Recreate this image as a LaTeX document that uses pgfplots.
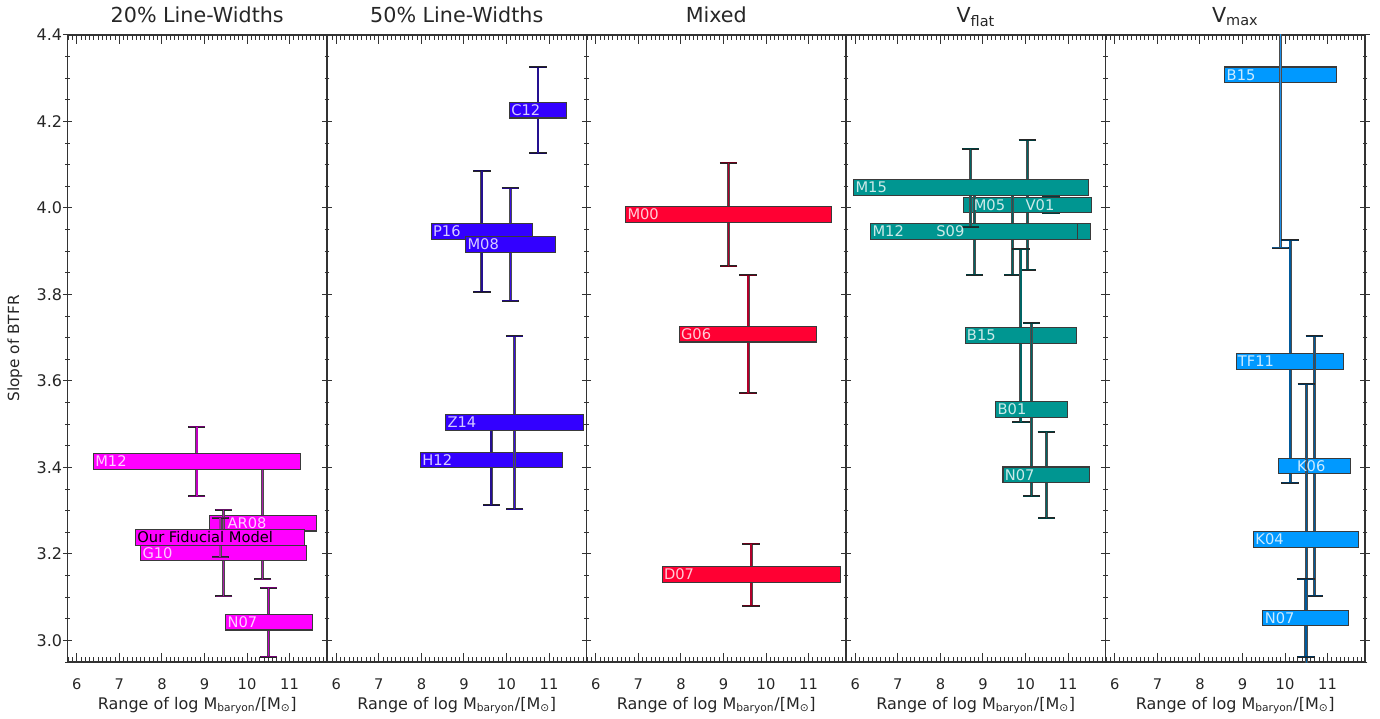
\documentclass[border=0pt]{standalone}
\usepackage{fontspec}
\setmainfont{DejaVu Sans}
\usepackage{pgfplots}
\pgfplotsset{compat=1.18}

\definecolor{axcol}{HTML}{333333}
\definecolor{txtcol}{HTML}{262626}
\definecolor{edgecol}{HTML}{3A3A3A}
\definecolor{fA}{HTML}{FF00FF}
\definecolor{eA}{HTML}{C000C0}
\definecolor{eAd}{HTML}{A820A8}
\definecolor{fB}{HTML}{3300FF}
\definecolor{eB}{HTML}{3A10E0}
\definecolor{eBd}{HTML}{241090}
\definecolor{fC}{HTML}{FF0033}
\definecolor{eC}{HTML}{B0002A}
\definecolor{fD}{HTML}{009691}
\definecolor{eD}{HTML}{006464}
\definecolor{fE}{HTML}{0099FF}
\definecolor{eE}{HTML}{005A9C}
\definecolor{eEl}{HTML}{1E8FE8}

% error bar: x, y, err, colour  (dark outline + coloured core)
\newcommand{\errbar}[4]{%
  \addplot[forget plot, draw=none, mark=none,
    error bars/.cd, y dir=both, y explicit,
    error bar style={draw=black!70, line width=2.1pt},
    error mark options={rotate=90, draw=black!85, line width=1.5pt, mark size=6.5pt}]
    coordinates {(#1,#2) +- (0,#3)};
  \addplot[forget plot, draw=none, mark=none,
    error bars/.cd, y dir=both, y explicit,
    error bar style={draw=#4, line width=1.1pt},
    error mark options={rotate=90, draw=#4!60!black, line width=0.6pt, mark size=6pt}]
    coordinates {(#1,#2) +- (0,#3)};
}
% range slab: xlo, xhi, y, fill
\newcommand{\slab}[4]{%
  \pgfmathsetmacro\ylo{#3-0.018}%
  \pgfmathsetmacro\yhi{#3+0.018}%
  \addplot[forget plot, fill=#4, draw=edgecol, line width=0.8pt, mark=none]
    coordinates {(#1,\ylo) (#2,\ylo) (#2,\yhi) (#1,\yhi)} -- cycle;
}
% label: x, y, text, colour
\newcommand{\lab}[4]{%
  \node[anchor=west, inner sep=1.2pt, text=#4, font=\fontsize{11}{13}\selectfont] at (axis cs:#1,#2) {#3};
}

\pgfplotsset{
  panel/.style={
    scale only axis, width=194.625pt, height=470.25pt,
    xmin=5.78, xmax=11.88, ymin=2.95, ymax=4.4,
    xtick={6,7,8,9,10,11},
    minor xtick={5.8,5.9,...,11.85},
    ytick={3.0,3.2,3.4,3.6,3.8,4.0,4.2,4.4},
    minor ytick={2.95,3.0,...,4.4},
    tick align=inside,
    ytick align=center,
    major tick length=7pt, minor tick length=3.5pt,
    axis line style={draw=axcol, line width=0.9pt},
    tick style={draw=axcol, line width=0.75pt},
    tick label style={text=txtcol},
    xticklabel style={font=\fontsize{11}{13}\selectfont, anchor=base, yshift=-20.5pt},
    /pgf/number format/assume math mode=true,
    title style={font=\fontsize{15.5}{18}\selectfont, text=txtcol, anchor=base,
      at={(axis description cs:0.5,1)}, yshift=3.5pt},
    xlabel={Range of log M\textsubscript{baryon}/[M\textsubscript{⊙}]},
    xlabel style={font=\fontsize{12}{14}\selectfont, text=txtcol, anchor=base,
      at={(axis description cs:0.5,0)}, yshift=-35.3pt},
  },
}

\begin{document}
\begin{tikzpicture}
\useasboundingbox (0,0) rectangle (1035pt,538.5pt);

% ---------------- 20% Line-Widths
\begin{axis}[panel, at={(50.625pt,42pt)}, anchor=south west,
  title={20\% Line-Widths},
  ylabel={Slope of BTFR},
  ylabel style={font=\fontsize{11.5}{13}\selectfont, text=txtcol,
    at={(axis description cs:-0.2024,0.5)}, anchor=center},
  yticklabel style={font=\fontsize{12}{14}\selectfont, xshift=3pt,
    /pgf/number format/fixed, /pgf/number format/fixed zerofill,
    /pgf/number format/precision=1}]
  \errbar{10.37}{3.271}{0.13}{eAd}\slab{9.12}{11.63}{3.271}{fA}
  \errbar{8.82}{3.414}{0.08}{eA}\slab{6.39}{11.25}{3.414}{fA}
  \errbar{9.45}{3.202}{0.10}{eAd}\slab{7.50}{11.39}{3.202}{fA}
  \errbar{9.37}{3.238}{0.046}{eAd}\slab{7.38}{11.35}{3.238}{fA}
  \errbar{10.51}{3.042}{0.08}{eA}\slab{9.50}{11.53}{3.042}{fA}
  \lab{6.39}{3.414}{M12}{white!80!fA}
  \lab{9.50}{3.271}{AR08}{white!80!fA}
  \lab{7.38}{3.238}{Our Fiducial Model}{black}
  \lab{7.50}{3.202}{G10}{white!80!fA}
  \lab{9.50}{3.042}{N07}{white!80!fA}
\end{axis}

% ---------------- 50% Line-Widths
\begin{axis}[panel, at={(245.25pt,42pt)}, anchor=south west,
  title={50\% Line-Widths}, yticklabels={}]
  \errbar{10.74}{4.226}{0.10}{eBd}\slab{10.07}{11.40}{4.226}{fB}
  \errbar{9.42}{3.946}{0.14}{eBd}
  \errbar{10.09}{3.916}{0.13}{eB}
  \slab{8.23}{10.60}{3.946}{fB}
  \slab{9.04}{11.15}{3.916}{fB}
  \errbar{9.64}{3.417}{0.105}{eBd}\slab{7.98}{11.31}{3.417}{fB}
  \errbar{10.19}{3.504}{0.20}{eB}\slab{8.57}{11.81}{3.504}{fB}
  \lab{10.07}{4.226}{C12}{white!80!fB}
  \lab{8.23}{3.946}{P16}{white!80!fB}
  \lab{9.04}{3.916}{M08}{white!80!fB}
  \lab{8.57}{3.504}{Z14}{white!80!fB}
  \lab{7.98}{3.417}{H12}{white!80!fB}
\end{axis}

% ---------------- Mixed
\begin{axis}[panel, at={(439.875pt,42pt)}, anchor=south west,
  title={Mixed}, yticklabels={}]
  \errbar{9.12}{3.985}{0.12}{eC}\slab{6.70}{11.54}{3.985}{fC}
  \errbar{9.58}{3.708}{0.137}{eC}\slab{7.96}{11.19}{3.708}{fC}
  \errbar{9.65}{3.152}{0.072}{eC}\slab{7.56}{11.74}{3.152}{fC}
  \lab{6.70}{3.985}{M00}{white!80!fC}
  \lab{7.96}{3.708}{G06}{white!80!fC}
  \lab{7.56}{3.152}{D07}{white!80!fC}
\end{axis}

% ---------------- V_flat
\begin{axis}[panel, at={(634.5pt,42pt)}, anchor=south west,
  title={V\textsubscript{flat}}, yticklabels={}]
  \errbar{10.04}{4.007}{0.15}{eD}\slab{8.54}{11.54}{4.007}{fD}
  \errbar{10.60}{4.007}{0.019}{eD}\slab{9.70}{11.54}{4.007}{fD}
  \errbar{9.69}{3.946}{0.10}{eD}\slab{7.86}{11.52}{3.946}{fD}
  \errbar{8.80}{3.946}{0.10}{eD}\slab{6.36}{11.23}{3.946}{fD}
  \errbar{8.71}{4.047}{0.09}{eD}\slab{5.96}{11.47}{4.047}{fD}
  \errbar{9.89}{3.705}{0.20}{eD}\slab{8.58}{11.20}{3.705}{fD}
  \errbar{10.14}{3.534}{0.20}{eD}\slab{9.30}{10.98}{3.534}{fD}
  \errbar{10.49}{3.383}{0.10}{eD}\slab{9.47}{11.50}{3.383}{fD}
  \lab{5.96}{4.047}{M15}{white!80!fD}
  \lab{8.74}{4.007}{M05}{white!80!fD}
  \lab{9.96}{4.007}{V01}{white!80!fD}
  \lab{6.36}{3.946}{M12}{white!80!fD}
  \lab{7.86}{3.946}{S09}{white!80!fD}
  \lab{8.58}{3.705}{B15}{white!80!fD}
  \lab{9.30}{3.534}{B01}{white!80!fD}
  \lab{9.47}{3.383}{N07}{white!80!fD}
\end{axis}

% ---------------- V_max
\begin{axis}[panel, at={(829.125pt,42pt)}, anchor=south west,
  title={V\textsubscript{max}}, yticklabels={}]
  \slab{8.585}{11.20}{4.308}{fE}\errbar{9.89}{4.308}{0.40}{eEl}
  \errbar{10.12}{3.645}{0.28}{eE}\slab{8.85}{11.385}{3.645}{fE}
  \errbar{10.69}{3.403}{0.30}{eE}\slab{9.85}{11.53}{3.403}{fE}
  \errbar{10.50}{3.233}{0.36}{eE}\slab{9.26}{11.73}{3.233}{fE}
  \errbar{10.49}{3.052}{0.09}{eE}\slab{9.48}{11.49}{3.052}{fE}
  \lab{8.585}{4.308}{B15}{white!80!fE}
  \lab{8.85}{3.645}{TF11}{white!80!fE}
  \lab{10.24}{3.403}{K06}{white!80!fE}
  \lab{9.26}{3.233}{K04}{white!80!fE}
  \lab{9.48}{3.052}{N07}{white!80!fE}
\end{axis}
\end{tikzpicture}
\end{document}
